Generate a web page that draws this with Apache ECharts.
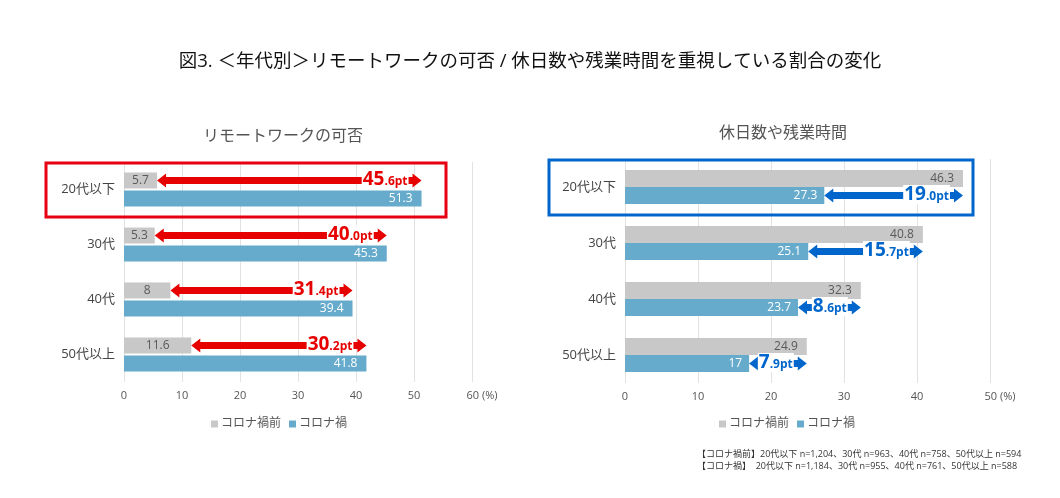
<!DOCTYPE html>
<html>
<head>
<meta charset="utf-8">
<script src="https://cdn.jsdelivr.net/npm/echarts@6/dist/echarts.min.js"></script>
<style>
  html, body { margin: 0; padding: 0; background: #fff; }
  #chart { width: 1060px; height: 498px; }
</style>
</head>
<body>
<div id="chart"></div>
<script>
  var categories = ['20代以下', '30代', '40代', '50代以上'];
  var seriesNames = ['コロナ禍前', 'コロナ禍'];
  // リモートワークの可否
  var remoteBefore = [5.7, 5.3, 8, 11.6];
  var remoteAfter = [51.3, 45.3, 39.4, 41.8];
  // 休日数や残業時間
  var holidayBefore = [46.3, 40.8, 32.3, 24.9];
  var holidayAfter = [27.3, 25.1, 23.7, 17];
  var remoteTicks = [0, 10, 20, 30, 40, 50, 60];
  var holidayTicks = [0, 10, 20, 30, 40, 50];

  var font = '"Open Sans", "Noto Sans CJK JP", sans-serif';
  var grayColor = '#c8c8c8';
  var blueColor = '#66abcc';

  function diffText(a, b) {
    var s = Math.abs(b - a).toFixed(1);
    var p = s.split('.');
    return '{b|' + p[0] + '}{s|.' + p[1] + 'pt}';
  }

  function arrowData(before, after) {
    var arr = [];
    for (var i = 0; i < before.length; i++) {
      arr.push([Math.min(before[i], after[i]), Math.max(before[i], after[i]), i]);
    }
    return arr;
  }

  function makeArrowRender(color, shift, labels) {
    return function (params, api) {
      var cat = api.value(2);
      var p1 = api.coord([api.value(0), cat]);
      var p2 = api.coord([api.value(1), cat]);
      var x1 = p1[0], x2 = p2[0], y = p1[1] + shift;
      var h = 9, hw = 7, sw = 3.6;
      var pts = [
        [x1, y], [x1 + h, y - hw], [x1 + h, y - sw], [x2 - h, y - sw], [x2 - h, y - hw],
        [x2, y], [x2 - h, y + hw], [x2 - h, y + sw], [x1 + h, y + sw], [x1 + h, y + hw]
      ];
      return {
        type: 'group',
        children: [
          { type: 'polygon', shape: { points: pts }, style: { fill: color } },
          {
            type: 'text',
            style: {
              text: labels[params.dataIndex],
              x: x2 - h - 4,
              y: y - 1,
              align: 'right',
              verticalAlign: 'middle',
              backgroundColor: '#fff',
              padding: [0, 1, 0, 1],
              rich: {
                b: { fontSize: 19, fontWeight: 'bold', fill: color, color: color, fontFamily: font },
                s: { fontSize: 12, fontWeight: 'bold', fill: color, color: color, fontFamily: font, padding: [5, 0, 0, 0] }
              }
            }
          }
        ]
      };
    };
  }

  var remoteLabels = remoteBefore.map(function (v, i) { return diffText(v, remoteAfter[i]); });
  var holidayLabels = holidayBefore.map(function (v, i) { return diffText(v, holidayAfter[i]); });

  function xAxisCfg(idx, ticks) {
    var last = ticks[ticks.length - 1];
    return {
      gridIndex: idx,
      type: 'value',
      min: ticks[0],
      max: last,
      interval: ticks[1] - ticks[0],
      axisLine: { show: false },
      axisTick: { show: false },
      splitLine: { show: true, lineStyle: { color: '#e2e2e2', width: 1 } },
      axisLabel: {
        color: '#555', fontSize: 11, fontFamily: font, margin: 8,
        formatter: function (v) { return v === last ? '{p|}' + v + ' (%)' : '' + v; },
        rich: { p: { width: 20 } }
      }
    };
  }

  function yAxisCfg(idx) {
    return {
      gridIndex: idx,
      type: 'category',
      data: categories,
      inverse: true,
      axisLine: { show: false },
      axisTick: { show: false },
      axisLabel: { color: '#444', fontSize: 13, fontFamily: font, margin: 9 }
    };
  }

  var chart = echarts.init(document.getElementById('chart'));
  chart.setOption({
    animation: false,
    textStyle: { fontFamily: font },
    title: [
      {
        text: '図3. ＜年代別＞リモートワークの可否 / 休日数や残業時間を重視している割合の変化',
        left: 'center', top: 47,
        textStyle: { fontSize: 18.5, fontWeight: 'normal', color: '#111', fontFamily: font }
      },
      {
        text: 'リモートワークの可否', left: 278, textAlign: 'center', top: 123,
        textStyle: { fontSize: 16, fontWeight: 'normal', color: '#555', fontFamily: font }
      },
      {
        text: '休日数や残業時間', left: 778, textAlign: 'center', top: 120,
        textStyle: { fontSize: 16, fontWeight: 'normal', color: '#555', fontFamily: font }
      }
    ],
    legend: [
      {
        data: seriesNames, left: 206, top: 413, itemWidth: 7, itemHeight: 7, itemGap: 8,
        icon: 'rect', textStyle: { fontSize: 12, color: '#555', fontFamily: font, padding: [0, 0, 0, -2] }
      },
      {
        data: seriesNames, left: 714, top: 413, itemWidth: 7, itemHeight: 7, itemGap: 8,
        icon: 'rect', textStyle: { fontSize: 12, color: '#555', fontFamily: font, padding: [0, 0, 0, -2] }
      }
    ],
    grid: [
      { left: 124, width: 348, top: 162, height: 220 },
      { left: 625, width: 365, top: 159, height: 224 }
    ],
    xAxis: [xAxisCfg(0, remoteTicks), xAxisCfg(1, holidayTicks)],
    yAxis: [yAxisCfg(0), yAxisCfg(1)],
    graphic: [
      { type: 'rect', shape: { x: 46, y: 163, width: 400, height: 54 }, style: { fill: 'none', stroke: '#e60012', lineWidth: 3 }, z: 10 },
      { type: 'rect', shape: { x: 549, y: 160, width: 424, height: 55 }, style: { fill: 'none', stroke: '#0066cc', lineWidth: 3 }, z: 10 },
      {
        type: 'text', left: 697, top: 450,
        style: { text: '【コロナ禍前】20代以下 n=1,204、30代 n=963、40代 n=758、50代以上 n=594', fontSize: 9, fill: '#333', fontFamily: font }
      },
      {
        type: 'text', left: 697, top: 462,
        style: { text: '【コロナ禍】  20代以下 n=1,184、30代 n=955、40代 n=761、50代以上 n=588', fontSize: 9, fill: '#333', fontFamily: font }
      }
    ],
    series: [
      {
        name: seriesNames[0], type: 'bar', xAxisIndex: 0, yAxisIndex: 0, data: remoteBefore,
        barWidth: 16, barGap: '12%', itemStyle: { color: grayColor },
        label: { show: true, position: 'inside', color: '#595959', fontSize: 12, fontFamily: font }
      },
      {
        name: seriesNames[1], type: 'bar', xAxisIndex: 0, yAxisIndex: 0, data: remoteAfter,
        barWidth: 16, barGap: '12%', itemStyle: { color: blueColor },
        label: { show: true, position: 'insideRight', distance: 9, color: '#fff', fontSize: 12, fontFamily: font }
      },
      {
        type: 'custom', xAxisIndex: 0, yAxisIndex: 0, data: arrowData(remoteBefore, remoteAfter),
        encode: { x: [0, 1], y: 2 }, z: 5, silent: true,
        renderItem: makeArrowRender('#e60000', -9, remoteLabels)
      },
      {
        name: seriesNames[0], type: 'bar', xAxisIndex: 1, yAxisIndex: 1, data: holidayBefore,
        barWidth: 17, barGap: '0%', itemStyle: { color: grayColor },
        label: { show: true, position: 'insideRight', distance: 9, color: '#595959', fontSize: 12, fontFamily: font }
      },
      {
        name: seriesNames[1], type: 'bar', xAxisIndex: 1, yAxisIndex: 1, data: holidayAfter,
        barWidth: 17, barGap: '0%', itemStyle: { color: blueColor },
        label: { show: true, position: 'insideRight', distance: 7, color: '#fff', fontSize: 12, fontFamily: font }
      },
      {
        type: 'custom', xAxisIndex: 1, yAxisIndex: 1, data: arrowData(holidayBefore, holidayAfter),
        encode: { x: [0, 1], y: 2 }, z: 5, silent: true,
        renderItem: makeArrowRender('#0066cc', 8.5, holidayLabels)
      }
    ]
  });
</script>
</body>
</html>
